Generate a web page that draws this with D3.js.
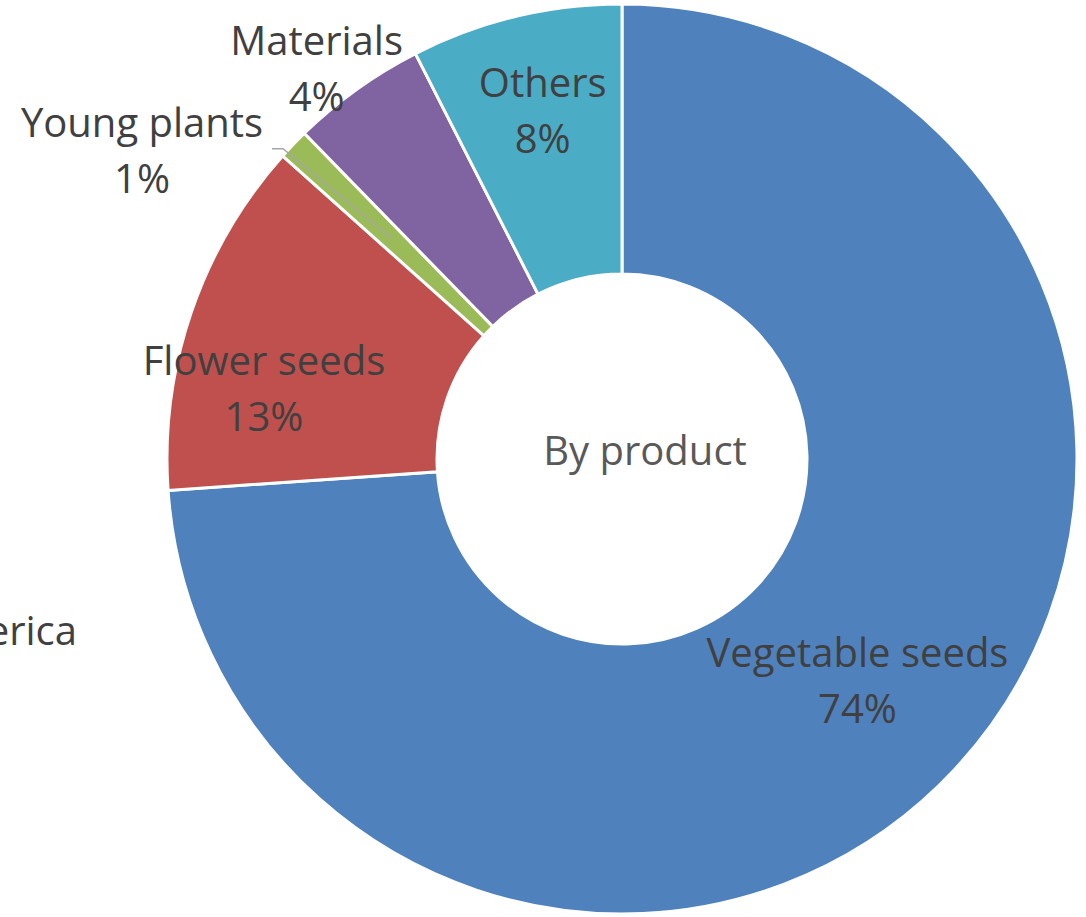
<!DOCTYPE html>
<html>
<head>
<meta charset="utf-8">
<script src="https://cdn.jsdelivr.net/npm/d3@7"></script>
<style>
  body { margin: 0; background: #fff; }
  svg { display: block; }
  text { font-family: "Open Sans", "Noto Sans", sans-serif; }
</style>
</head>
<body>
<div id="chart"></div>
<script>
// Data (share by product)
const products = ['Vegetable seeds', 'Flower seeds', 'Young plants', 'Materials', 'Others'];
const shares = [73.9, 12.7, 1.1, 4.8, 7.5];
const shareLabels = ['74%', '13%', '1%', '4%', '8%'];
const colors = ['#4F81BD', '#C0504D', '#9BBB59', '#8064A2', '#4BACC6'];

const width = 1086;
const height = 917;
const cx = 622;
const cy = 459;
const outerR = 455;
const innerR = 185;
const fontSize = 40;
const textColor = '#404040';

// where Excel put each label (polar: degrees clockwise from top, distance from centre)
const labelLayout = [
	{ angle: 133.2, r: 323 },
	{ angle: 281.2, r: 365 },
	{ angle: 302.8, r: 571, leader: true },
	{ angle: 322.0, r: 496 },
	{ angle: 347.2, r: 358 }
];

const svg = d3.select('#chart')
			.append('svg')
			.attr('width', width)
			.attr('height', height);

const g = svg.append('g')
			.attr('transform', `translate(${cx},${cy})`);

const pie = d3.pie()
			.sort(null)
			.value(d => d);

const arcs = pie(shares);

const arcBuilder = d3.arc()
			.innerRadius(innerR)
			.outerRadius(outerR);

g.selectAll('path.slice')
.data(arcs)
.enter()
.append('path')
.classed('slice', true)
.attr('d', arcBuilder)
.attr('fill', (d, i) => colors[i])
.attr('stroke', '#fff')
.attr('stroke-width', 3)
.attr('stroke-linejoin', 'miter');

const polar = (angleDeg, r) => {
	const a = angleDeg * Math.PI / 180;
	return [r * Math.sin(a), -r * Math.cos(a)];
};

// leader line for the tiny slice
labelLayout.forEach((lay, i) => {
	if (!lay.leader) return;
	const [lx, ly] = polar(lay.angle, lay.r);
	const [ex, ey] = arcBuilder.centroid(arcs[i]);
	const startX = lx + 130;
	const startY = ly - 1;
	g.append('path')
		.attr('d', `M${startX},${startY}H${startX + 11}L${ex},${ey}`)
		.attr('fill', 'none')
		.attr('stroke', '#a6a6a6')
		.attr('stroke-width', 1.5);
});

const labels = g.selectAll('text.label')
			.data(arcs)
			.enter()
			.append('text')
			.classed('label', true)
			.attr('text-anchor', 'middle')
			.attr('font-size', fontSize)
			.attr('fill', textColor)
			.attr('transform', (d, i) => {
				const [x, y] = polar(labelLayout[i].angle, labelLayout[i].r);
				return `translate(${x},${y})`;
			});

labels.append('tspan')
.attr('x', 0)
.attr('y', -13)
.text((d, i) => products[i]);

labels.append('tspan')
.attr('x', 0)
.attr('y', 43)
.text((d, i) => shareLabels[i]);

// title inside the hole
g.append('text')
.attr('x', 23)
.attr('y', 6)
.attr('text-anchor', 'middle')
.attr('font-size', fontSize)
.attr('fill', '#595959')
.text('By product');

// label of the neighbouring chart, cut off at the left edge
svg.append('text')
.attr('x', 77)
.attr('y', 645)
.attr('text-anchor', 'end')
.attr('font-size', fontSize)
.attr('fill', textColor)
.text('America');
</script>
</body>
</html>
